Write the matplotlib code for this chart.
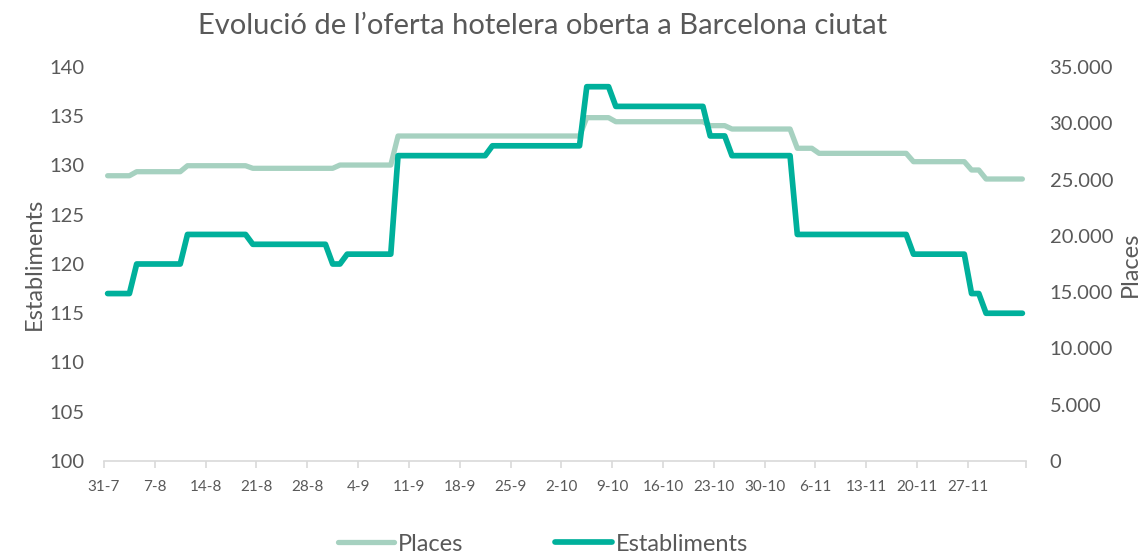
import numpy as np
import pandas as pd
import matplotlib
matplotlib.use("Agg")
import matplotlib.pyplot as plt
from matplotlib.ticker import FuncFormatter

plt.rcParams['font.family'] = ['Lato', 'DejaVu Sans']

# daily series, 31-7 .. 4-12 (127 days), stored as level + number of days
est_levels = [117, 120, 123, 122, 120, 121, 131, 132, 138, 136, 133, 131, 123, 121, 117, 115]
est_days = [4, 7, 9, 11, 2, 7, 13, 13, 4, 13, 3, 9, 16, 8, 2, 6]

places_levels = [25340, 25700, 26230, 26000, 26290, 28870, 30500, 30140, 29790,
                 29490, 27780, 27330, 26590, 25850, 25050]
places_days = [4, 7, 9, 12, 8, 26, 4, 13, 3, 9, 3, 13, 8, 2, 6]

dates = pd.date_range("2020-07-31", periods=127, freq="D")
day_labels = [f"{d.day}-{d.month}" for d in dates]

establiments = np.repeat(est_levels, est_days)
places = np.repeat(places_levels, places_days)
x = np.arange(len(dates))

grey = "#595959"
c_est = "#00B09B"
c_pl = "#A6D1C0"

fig = plt.figure(figsize=(11.45, 5.54), dpi=100)
ax = fig.add_axes([104 / 1145, 93 / 554, 922 / 1145, 394 / 554])
ax2 = ax.twinx()
ax.set_zorder(ax2.get_zorder() + 1)
ax.patch.set_visible(False)

l2, = ax2.plot(x, places, color=c_pl, lw=3.8, solid_capstyle='round',
               solid_joinstyle='round', label="Places")
l1, = ax.plot(x, establiments, color=c_est, lw=4.1, solid_capstyle='round',
              solid_joinstyle='round', label="Establiments")

ax.set_xlim(-0.5, len(x) - 0.5)
ax.set_ylim(100, 140)
ax.set_yticks(range(100, 141, 5))
ax2.set_ylim(0, 35000)
ax2.set_yticks(range(0, 35001, 5000))
ax2.yaxis.set_major_formatter(FuncFormatter(lambda v, p: f"{int(v):,}".replace(",", ".")))

# a tick every 7 days, the closing tick has no label
ticks = np.append(np.arange(-0.5, len(x) - 7, 7), len(x) - 0.5)
labels = [day_labels[int(t + 0.5)] for t in ticks[:-1]] + [""]
ax.set_xticks(ticks)
ax.set_xticklabels(labels)

for a in (ax, ax2):
    for s in a.spines.values():
        s.set_visible(False)
ax.spines['bottom'].set_visible(True)
ax.spines['bottom'].set_color("#D9D9D9")
ax.spines['bottom'].set_linewidth(1.2)

ax.tick_params(axis='x', colors="#D9D9D9", length=5, width=1.2, pad=9,
               labelsize=11, labelcolor=grey)
ax.tick_params(axis='y', length=0, pad=14, labelsize=14.5, labelcolor=grey)
ax2.tick_params(axis='y', length=0, pad=17, labelsize=14.5, labelcolor=grey)

ax.set_ylabel("Establiments", fontsize=17, color=grey)
ax2.set_ylabel("Places", fontsize=17, color=grey)
ax.yaxis.set_label_coords(-0.064, 0.5)
ax2.yaxis.set_label_coords(1.102, 0.5)

fig.text(0.474, 0.953, "Evolució de l\u2019oferta hotelera oberta a Barcelona ciutat",
         ha='center', va='center', fontsize=21, color=grey)

fig.legend(handles=[l2, l1], loc='center', bbox_to_anchor=(0.474, 0.018),
           ncol=2, frameon=False, fontsize=17, handlelength=2.4,
           columnspacing=3.9, handletextpad=0.15, labelcolor=grey)

fig.savefig("out.png", dpi=100)
